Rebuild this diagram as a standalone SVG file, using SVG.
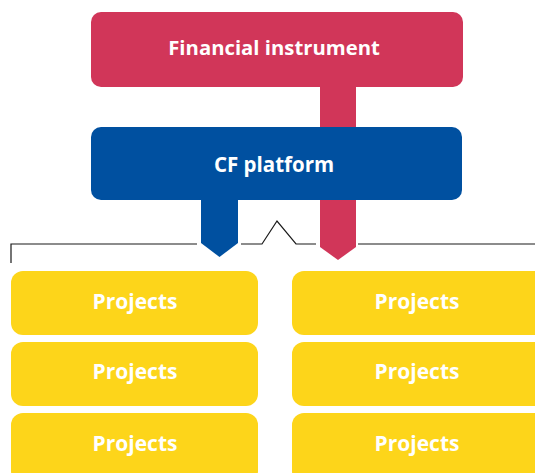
<svg xmlns="http://www.w3.org/2000/svg" width="535" height="473" viewBox="0 0 535 473">
<style>
.red{fill:#d13659}
.blue{fill:#0050a0}
.yel{fill:#fdd51a}
.t{font-family:"Open Sans","Noto Sans",sans-serif;font-weight:bold;fill:#ffffff;text-anchor:middle}
.line{fill:none;stroke:#1a1a1a;stroke-width:1.2}
</style>
<g id="connectors">
<polyline class="line" points="11,263 11,244 197,244"/>
<polyline class="line" points="241,244 262,244 277,221 296,244 316,244"/>
<polyline class="line" points="358,244 535,244"/>
</g>
<g id="red-stem"><polygon class="red" points="320,80 356,80 356,247 338,260 320,247"/></g>
<g id="financial-instrument">
<rect class="red" x="91" y="12" width="372" height="75" rx="10"/>
<text class="t" x="274" y="55" font-size="20.3">Financial instrument</text>
</g>
<g id="cf-platform">
<rect class="blue" x="91" y="127" width="371" height="73" rx="10"/>
<polygon class="blue" points="201,195 238,195 238,243 219.5,257 201,243"/>
<text class="t" x="274" y="172" font-size="20.5">CF platform</text>
</g>
<g id="projects-l1"><rect class="yel" x="11" y="271" width="247" height="64" rx="12"/><text class="t" x="135" y="309" font-size="21">Projects</text></g>
<g id="projects-l2"><rect class="yel" x="11" y="342" width="247" height="64" rx="12"/><text class="t" x="135" y="379" font-size="21">Projects</text></g>
<g id="projects-l3"><rect class="yel" x="11" y="413" width="247" height="70" rx="12"/><text class="t" x="135" y="451" font-size="21">Projects</text></g>
<g id="projects-r1"><rect class="yel" x="292" y="271" width="255" height="64" rx="12"/><text class="t" x="417" y="309" font-size="21">Projects</text></g>
<g id="projects-r2"><rect class="yel" x="292" y="342" width="255" height="64" rx="12"/><text class="t" x="417" y="379" font-size="21">Projects</text></g>
<g id="projects-r3"><rect class="yel" x="292" y="413" width="255" height="70" rx="12"/><text class="t" x="417" y="451" font-size="21">Projects</text></g>
</svg>
